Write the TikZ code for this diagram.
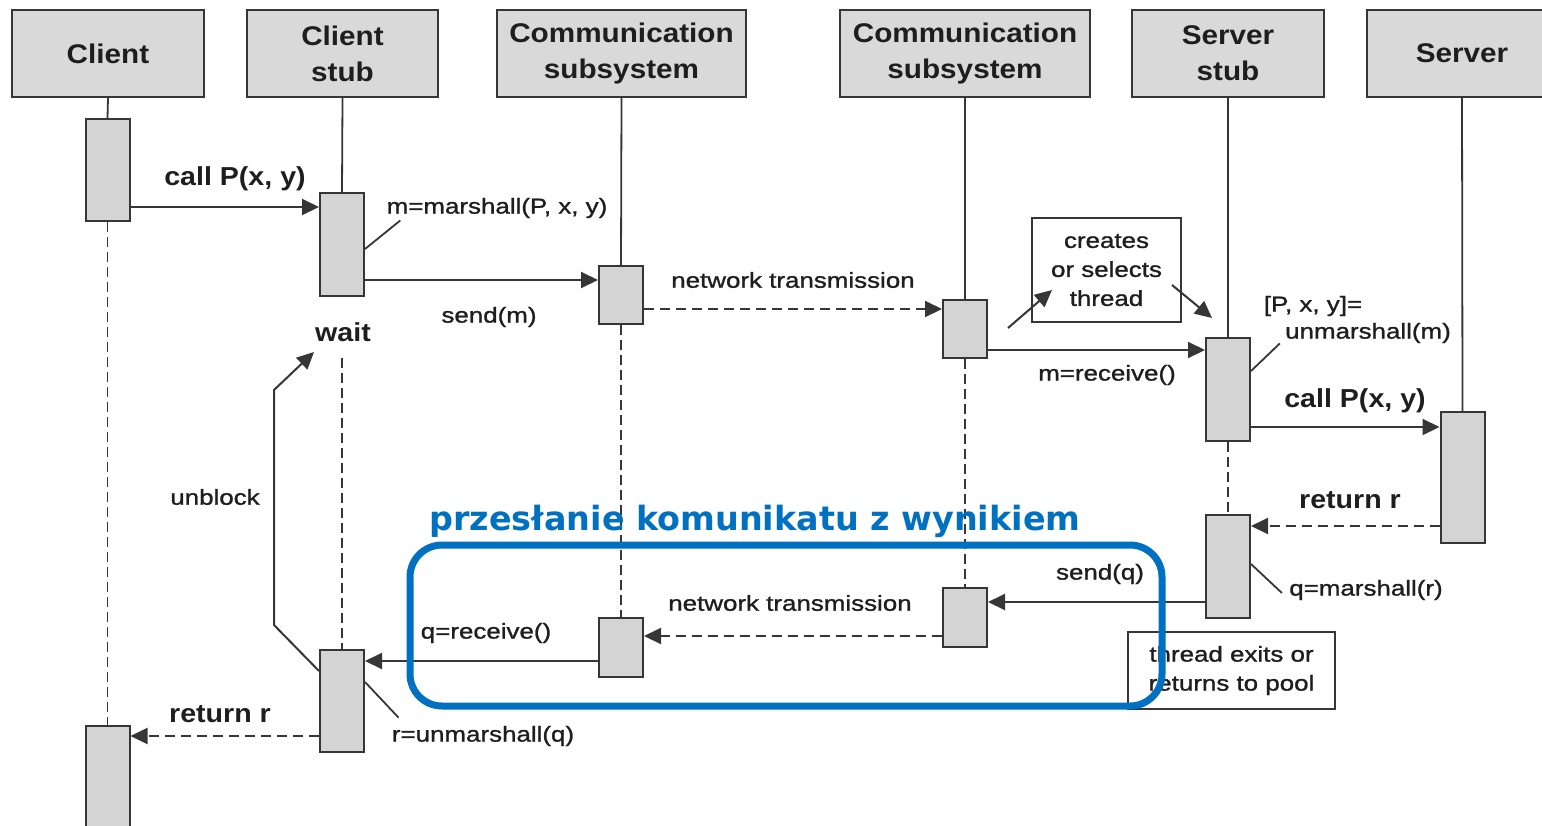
\documentclass[tikz,border=0pt]{standalone}
\usepackage{fontspec}
\setmainfont{Liberation Sans}
\newfontfamily\hdfont{Liberation Sans}[FakeStretch=1.1]
\newfontfamily\lblfont{Liberation Sans}[FakeStretch=1.2,FakeBold=1.2]
\newfontfamily\titlefont{DejaVu Sans}
\usetikzlibrary{arrows.meta,calc}

\definecolor{ink}{HTML}{1E1E1E}
\definecolor{edge}{HTML}{363636}
\definecolor{boxfill}{HTML}{D4D4D4}
\definecolor{headfill}{HTML}{D9D9D9}
\definecolor{accent}{HTML}{0070C0}

\begin{document}
\begin{tikzpicture}[x=0.5pt,y=-0.5pt,
  header/.style={draw=edge, line width=1.2pt, fill=headfill, minimum height=43.5pt,
    inner sep=0pt, align=center, text=ink,
    font=\hdfont\bfseries\fontsize{13.5}{18}\selectfont},
  act/.style={draw=edge, line width=1pt, fill=boxfill, minimum width=22pt, inner sep=0pt},
  life/.style={edge, line width=0.9pt},
  lifedash/.style={edge, line width=0.9pt, dash pattern=on 5pt off 2.5pt},
  msg/.style={edge, line width=1pt, -{Triangle[length=8.5pt,width=8pt]}},
  msgdash/.style={msg, dash pattern=on 5pt off 3pt},
  lbl/.style={inner sep=0pt, text=ink, align=center,
    font=\lblfont\fontsize{10.8}{14.5}\selectfont},
  big/.style={inner sep=0pt, text=ink, font=\hdfont\bfseries\fontsize{13}{16}\selectfont},
  lead/.style={edge, line width=0.9pt},
  note/.style={draw=edge, line width=0.9pt, fill=white, inner sep=0pt, align=center,
    text=ink, font=\lblfont\fontsize{10.8}{14.5}\selectfont}
]
\clip (0,0) rectangle (1542,825);

% participants
\node[header, minimum width=96pt]    (hC)  at (108,53.5)   {Client};
\node[header, minimum width=95.5pt]  (hCS) at (342.5,53.5) {Client\\stub};
\node[header, minimum width=124.5pt] (hM1) at (621.5,53.5) {Communication\\subsystem};
\node[header, minimum width=125pt]   (hM2) at (965,53.5)   {Communication\\subsystem};
\node[header, minimum width=96pt]    (hSS) at (1228,53.5)  {Server\\stub};
\node[header, minimum width=95pt]    (hS)  at (1462,53.5)  {Server};

% activation bars
\node[act, minimum height=51pt]   (c1)  at (107.5,170)   {};
\node[act, minimum height=52pt]   (c2)  at (107.5,778)   {};
\node[act, minimum height=51.5pt] (cs1) at (342,244.5)   {};
\node[act, minimum height=51pt]   (cs2) at (342,701)     {};
\node[act, minimum height=29pt]   (m1)  at (621,295)     {};
\node[act, minimum height=29.5pt] (m2)  at (621,647.5)   {};
\node[act, minimum height=29pt]   (n1)  at (965,329)     {};
\node[act, minimum height=29.5pt] (n2)  at (965,617.5)   {};
\node[act, minimum height=51.5pt] (ss1) at (1228,389.5)  {};
\node[act, minimum height=51.5pt] (ss2) at (1228,566.5)  {};
\node[act, minimum height=65.5pt] (sv)  at (1462.5,477.5) {};

% labels
\node[big] (lCall1) at (235,179) {call P(x, y)};
\node[lbl] (lMarsh) at (497,208) {m=marshall(P, x, y)};
\node[lbl] (lSendM) at (489,317) {send(m)};
\node[big] (lWait)  at (343,332) {wait};
\node[lbl] (lNet1)  at (793,280) {network transmission};
\node[lbl] (lRecvM) at (1107,375) {m=receive()};
\node[lbl] (lPxy)   at (1313,306) {[P, x, y]=};
\node[lbl] (lUnm)   at (1368,333) {unmarshall(m)};
\node[big] (lCall2) at (1355,401) {call P(x, y)};
\node[lbl] (lUnbl)  at (215,497) {unblock};
\node[big] (lRet1)  at (1350,500) {return r};
\node[lbl] (lSendQ) at (1100,574) {send(q)};
\node[lbl] (lQm)    at (1366,590) {q=marshall(r)};
\node[lbl] (lNet2)  at (790,603) {network transmission};
\node[lbl] (lRecvQ) at (486,633) {q=receive()};
\node[big] (lRet2)  at (220,714) {return r};
\node[lbl] (lRu)    at (483,736) {r=unmarshall(q)};

% notes
\node[note, minimum width=74.5pt, minimum height=52pt] (cbox) at (1106.5,270)
  {creates\\or selects\\thread};

% lifelines
\coordinate (waitEnd) at (342,358);
\draw[life] (hC.south) -- (c1.north);
\draw[lifedash] (c1.south) -- (c2.north);
\draw[life] (hCS.south) -- (cs1.north);
\draw[lifedash] (waitEnd) -- (cs2.north);
\draw[life] (hM1.south) -- (m1.north);
\draw[lifedash] (m1.south) -- (m2.north);
\draw[life] (hM2.south) -- (n1.north);
\draw[lifedash] (n1.south) -- (n2.north);
\draw[life] (hSS.south) -- (ss1.north);
\draw[lifedash] (ss1.south) -- (ss2.north);
\draw[life] (hS.south) -- (sv.north);

% request path
\coordinate (a1) at ([yshift=-7.5pt]cs1.north west);
\coordinate (a2) at ([yshift=-7.5pt]m1.north west);
\coordinate (a3) at ([yshift=-5pt]n1.north west);
\coordinate (a4) at ([yshift=-6.5pt]ss1.north west);
\coordinate (a5) at ([yshift=-8pt]sv.north west);
\draw[msg] (c1.east |- a1) -- (a1);
\draw[msg] (cs1.east |- a2) -- (a2);
\draw[msgdash] (m1.east |- a3) -- (a3);
\draw[msg] (n1.east |- a4) -- (a4);
\draw[msg] (ss1.east |- a5) -- (a5);

% reply path
\coordinate (a6) at ([yshift=-6pt]ss2.north east);
\coordinate (a7) at ([yshift=-7.5pt]n2.north east);
\coordinate (a8) at ([yshift=-9.5pt]m2.north east);
\coordinate (a9) at ([yshift=-6pt]cs2.north east);
\coordinate (a10) at ([yshift=-5.5pt]c2.north east);
\draw[msgdash] (sv.west |- a6) -- (a6);
\draw[msg] (ss2.west |- a7) -- (a7);
\draw[msgdash] (n2.west |- a8) -- (a8);
\draw[msg] (m2.west |- a9) -- (a9);
\draw[msgdash] (cs2.west |- a10) -- (a10);

% annotation leaders
\draw[lead] ([yshift=-28.5pt]cs1.north east) -- ([xshift=7pt,yshift=-1pt]lMarsh.south west);
\draw[lead] ([yshift=-17pt]ss1.north east) -- ([xshift=-2.5pt]lUnm.south west);
\draw[lead] ([yshift=-25pt]ss2.north east) -- ([xshift=-3.5pt,yshift=-1.5pt]lQm.west);
\draw[lead] ([yshift=-16.5pt]cs2.north east) -- ([xshift=3.5pt,yshift=4pt]lRu.north west);

% thread handling
\coordinate (t1s) at (1008,328);
\coordinate (t1e) at (1052,290);
\coordinate (t2s) at (1172,285);
\coordinate (t2e) at (1212,318);
\draw[msg] (t1s) -- (t1e);
\draw[msg] (t2s) -- (t2e);

% unblock
\coordinate (ub1) at (274,625);
\coordinate (ub2) at (274,390);
\coordinate (ub3) at (314,352);
\draw[msg] ([yshift=-11pt]cs2.north west) -- (ub1) -- (ub2) -- (ub3);

% thread release note
\node[note, minimum width=103.5pt, minimum height=38.5pt] (tbox) at (1231.5,670.5)
  {thread exits or\\returns to pool};

% highlighted reply transfer
\node[draw=accent, line width=3.5pt, rounded corners=16pt, minimum width=376pt,
  minimum height=80.5pt, inner sep=0pt] (frame) at (786,625.5) {};
\node[anchor=base, inner sep=0pt, text=accent,
  font=\titlefont\bfseries\fontsize{16.7}{20}\selectfont] (title) at (755,530)
  {przesłanie komunikatu z wynikiem};
\end{tikzpicture}
\end{document}
